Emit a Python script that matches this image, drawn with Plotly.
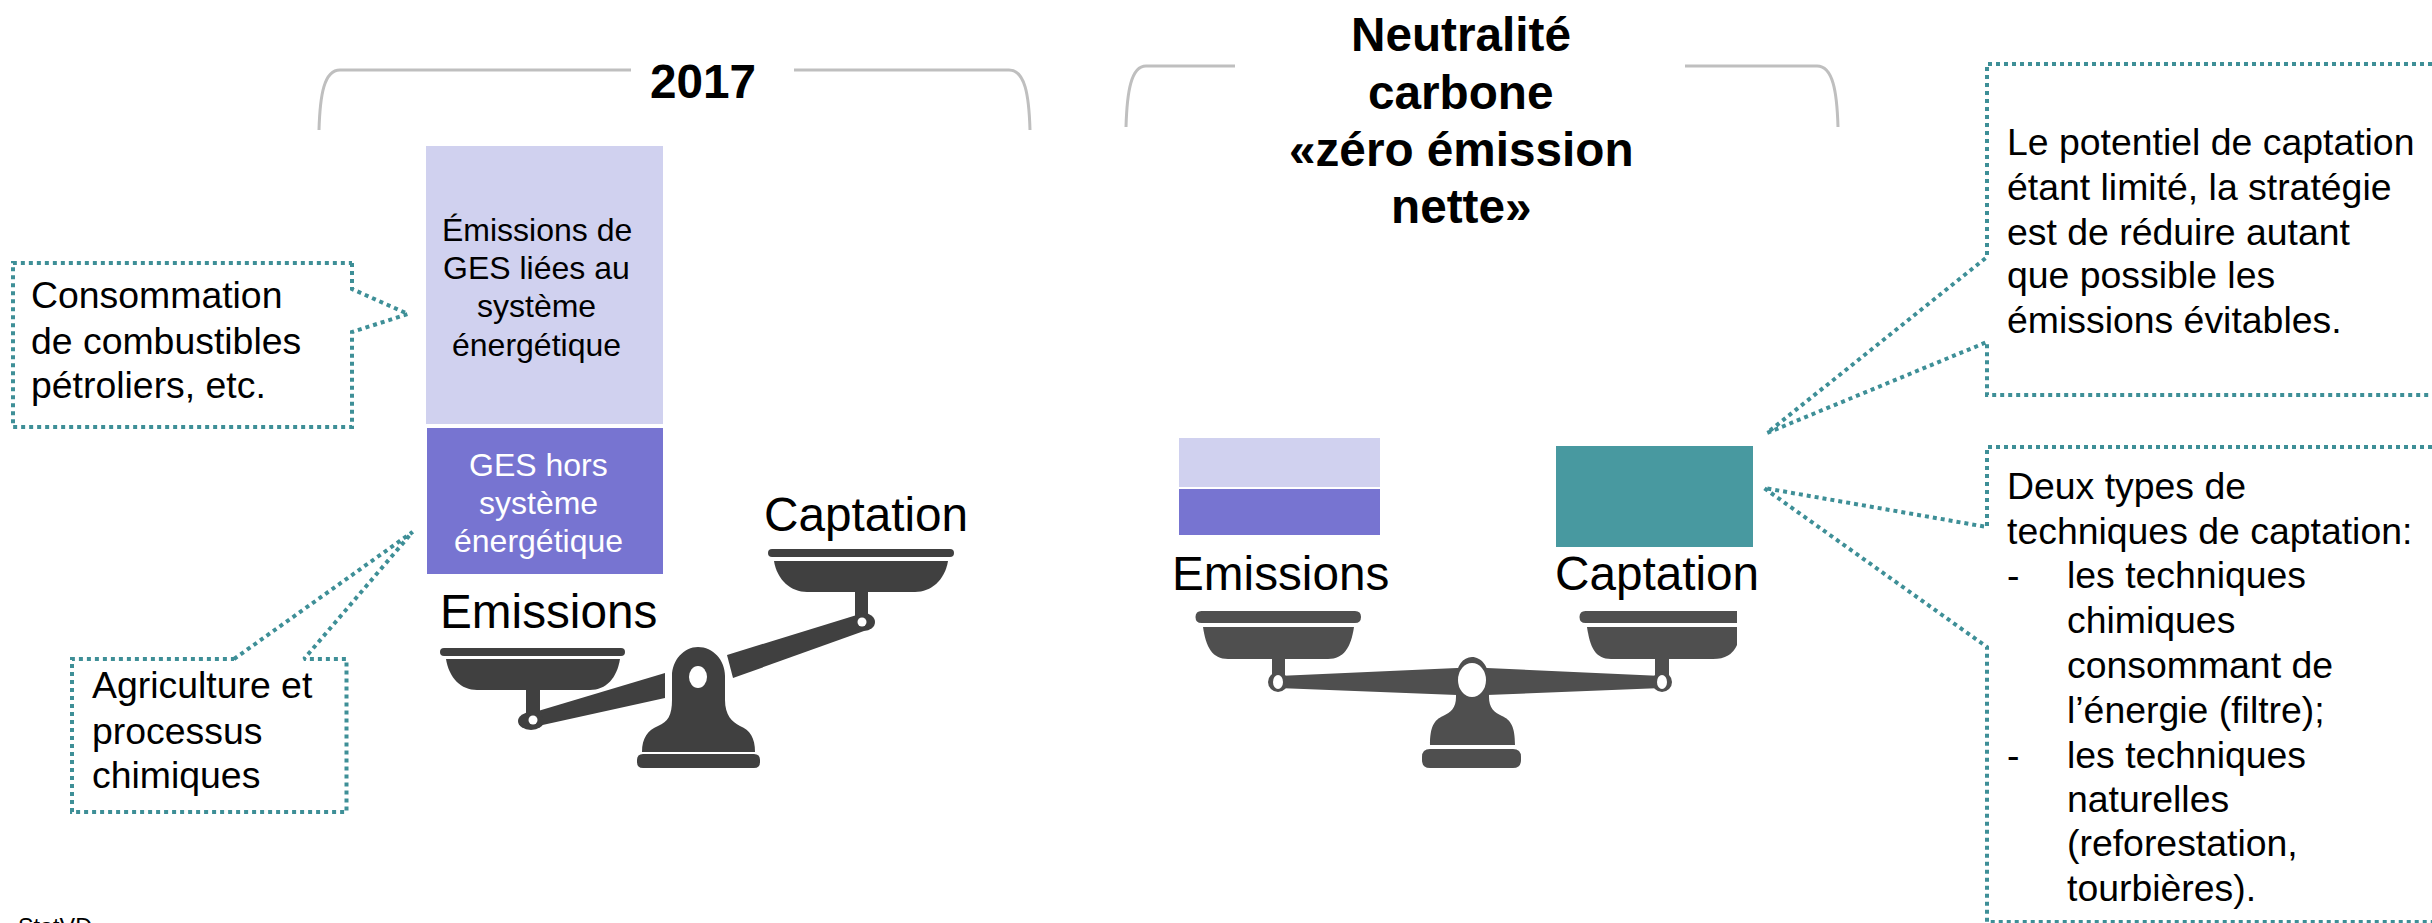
import plotly.graph_objects as go

# ---- data (heights, in picture units) ----
stack_labels = ["Émissions énergie 2017", "GES hors énergie 2017", "Émissions énergie neutralité", "GES hors énergie neutralité", "Captation neutralité"]
stack_values = [278, 146, 49, 46, 101]
titles = ["2017", "Neutralité", "carbone", "«zéro émission", "nette»"]
energy_lines = ["Émissions de", "GES liées au", "système", "énergétique"]
other_lines = ["GES hors", "système", "énergétique"]
note_fuel = ["Consommation", "de combustibles", "pétroliers, etc."]
note_agri = ["Agriculture et", "processus", "chimiques"]
note_limit = ["Le potentiel de captation", "étant limité, la stratégie", "est de réduire autant", "que possible les", "émissions évitables."]
note_types = ["Deux types de", "techniques de captation:"]
note_types_items = ["les techniques", "chimiques", "consommant de", "l’énergie (filtre);", "les techniques", "naturelles", "(reforestation,", "tourbières)."]

W, H = 2432, 923
FONT = "Liberation Sans"
LIGHT, MID, TEAL = "#D0D1EF", "#7774D1", "#4899A0"
DOT = "#3E8F97"
GREY = "#BFBFBF"

fig = go.Figure()

# bars: (centre x, top y, width)
bar_geo = [(544.5, 146, 237), (545, 428, 236), (1279.5, 438, 201), (1279.5, 489, 201), (1654.5, 446, 197)]
bar_col = [LIGHT, MID, LIGHT, MID, TEAL]
for name, v, (cx, top, w), c in zip(stack_labels, stack_values, bar_geo, bar_col):
    fig.add_trace(go.Bar(x=[cx], y=[v], base=[top], width=[w], name=name,
                         marker=dict(color=c, line=dict(width=0)), hoverinfo="skip"))

# dotted callouts
def callout(xs, ys):
    fig.add_trace(go.Scatter(x=xs, y=ys, mode="lines", hoverinfo="skip",
                             line=dict(color=DOT, width=4, dash="4px,4px")))

callout([352, 352, 408, 352, 352, 13, 13, 352], [263, 289, 314, 332, 427, 427, 263, 263])
callout([234, 412.5, 304, 346.5, 346.5, 72, 72, 234], [659, 532, 659, 659, 812, 812, 659, 659])
callout([2440, 1987, 1987, 1767, 1987, 1987, 2440], [64, 64, 257, 433, 342, 395, 395])
callout([2440, 1987, 1987, 1764, 1987, 1987, 2440], [447, 447, 527, 488, 647, 922, 922])

shapes = []
def path(d, color):
    shapes.append(dict(type="path", path=d, fillcolor=color, line=dict(width=0), layer="above",
                       xref="x", yref="y"))
def ell(cx, cy, rx, ry, color):
    shapes.append(dict(type="circle", x0=cx-rx, x1=cx+rx, y0=cy-ry, y1=cy+ry, fillcolor=color,
                       line=dict(width=0), layer="above", xref="x", yref="y"))
def rrect(x0, y0, x1, y1, r, color, right_square=False):
    if right_square:
        d = f"M{x0+r},{y0} L{x1},{y0} L{x1},{y1} L{x0+r},{y1} Q{x0},{y1} {x0},{y1-r} L{x0},{y0+r} Q{x0},{y0} {x0+r},{y0} Z"
    else:
        d = (f"M{x0+r},{y0} L{x1-r},{y0} Q{x1},{y0} {x1},{y0+r} L{x1},{y1-r} Q{x1},{y1} {x1-r},{y1} "
             f"L{x0+r},{y1} Q{x0},{y1} {x0},{y1-r} L{x0},{y0+r} Q{x0},{y0} {x0+r},{y0} Z")
    path(d, color)
def pan(x0, x1, rim_y0, rim_y1, bx0, bx1, by0, by1, fx0, fx1, color, clip=False):
    rrect(x0, rim_y0, x1, rim_y1, (rim_y1-rim_y0)/2, color, right_square=clip)
    if clip:
        path(f"M{bx0},{by0} L{bx1},{by0} L{bx1},{by1-14} Q{fx1+18},{by1} {fx1},{by1} L{fx0},{by1} "
             f"C{fx0-16},{by1} {bx0+3},{by1-12} {bx0},{by0} Z", color)
    else:
        path(f"M{bx0},{by0} L{bx1},{by0} C{bx1-3},{by1-12} {fx1+16},{by1} {fx1},{by1} L{fx0},{by1} "
             f"C{fx0-16},{by1} {bx0+3},{by1-12} {bx0},{by0} Z", color)

# left balance
C1 = "#404040"
pan(440, 625, 648, 656, 446, 620, 659, 690, 477, 590, C1)
pan(768, 954, 549, 557, 774, 948, 561, 592, 807, 915, C1)
path("M526,690 L540,690 L540,722 L526,722 Z", C1)
path("M855,590 L868,590 L868,624 L855,624 Z", C1)
path("M538,711 L665,673 L665,698 L538,726 Z", C1)
path("M727,655 L860,614 L864,631 L733,678 Z", C1)
ell(531, 721, 13, 9, C1)
ell(864, 622, 11, 9, C1)
ell(533, 720, 4.5, 4.5, "white")
ell(862, 622, 4.5, 4.5, "white")
path("M672,676 C672,660 684,647 698,647 C713,647 725,660 725,676 L725,700 C725,715 732,722 740,726 "
     "C750,730 755,738 755,752 L642,752 C642,738 648,730 658,726 C668,722 672,715 672,700 Z", C1)
ell(698, 677, 9, 11, "white")
rrect(637, 754, 760, 768, 6, C1)

# right balance
C2 = "#4F4F4F"
pan(1195.5, 1361, 611, 623, 1203, 1354, 627, 659, 1228, 1328, C2)
pan(1579.5, 1737, 611, 623, 1587, 1737, 627, 659, 1611, 1713, C2, clip=True)
path("M1272,659 L1285,659 L1285,682 L1272,682 Z", C2)
path("M1655,659 L1669,659 L1669,682 L1655,682 Z", C2)
path("M1278,676 L1457,668 L1487,668 L1662,676 L1662,688 L1487,695 L1457,695 L1278,688 Z", C2)
ell(1278, 682, 10, 10, C2)
ell(1662, 682, 10, 10, C2)
ell(1278, 682, 5, 7, "white")
ell(1662, 682, 5, 7, "white")
path("M1456,680 C1456,666 1463,657 1472,657 C1481,657 1489,666 1489,680 L1489,697 "
     "C1489,708 1494,712 1502,716 C1511,720 1515,727 1515,745 L1430,745 C1430,727 1434,720 1443,716 "
     "C1451,712 1456,708 1456,697 Z", C2)
ell(1472, 680, 14, 17, "white")
rrect(1422, 749, 1521, 768, 8, C2)

# brackets
shapes.append(dict(type="path", xref="x", yref="y", line=dict(color=GREY, width=3),
    path="M319,130 C320,95 324,70 340,70 L631,70 M794,70 L1009,70 C1025,70 1029,95 1030,130"))
shapes.append(dict(type="path", xref="x", yref="y", line=dict(color=GREY, width=3),
    path="M1126,127 C1127,92 1131,66 1146,66 L1235,66 M1685,66 L1817,66 C1833,66 1837,92 1838,127"))

# text: y given as baseline
notes = []
B, S, T = 47.7, 32, 37.4
lift = {B: 1.5, S: 1, T: 0}
shift = {B: 0, S: -0.5, T: -1.5}
def text(x, baseline, s, size, anchor="left", color="black", bold=False):
    shown = f"<b>{s}</b>" if bold else s
    notes.append(dict(x=x + shift[size], y=baseline - 0.31*size - lift[size], text=shown, showarrow=False,
                      xref="x", yref="y", xanchor=anchor, yanchor="middle", borderpad=0,
                      font=dict(family=FONT, size=size, color=color)))

text(703, 98, titles[0], B, "center", bold=True)
for s, b in zip(titles[1:], [51, 109, 166, 223]):
    text(1461, b, s, B, "center", bold=True)
for s, b in zip(energy_lines, [241, 279, 317, 356]):
    text(537, b, s, S, "center")
for s, b in zip(other_lines, [476, 514, 552]):
    text(539, b, s, S, "center", color="white")
text(548, 628, "Emissions", B, "center")
text(866, 531, "Captation", B, "center")
text(1280, 590, "Emissions", B, "center")
text(1656.5, 590, "Captation", B, "center")
for s, b in zip(note_fuel, [307, 353, 397]):
    text(31.5, b, s, T)
for s, b in zip(note_agri, [697, 743, 787]):
    text(92.6, b, s, T)
for s, b in zip(note_limit, [154, 199, 244, 287, 332]):
    text(2007, b, s, T)
for s, b in zip(note_types, [498, 543]):
    text(2007, b, s, T)
for s, b in zip(note_types_items, [587, 632, 677, 722, 767, 811, 855, 900]):
    text(2067, b, s, T)
text(2007, 587, "-", T)
text(2007, 767, "-", T)
# source line sits partly below the picture edge in the reference, so it is placed in paper units
notes.append(dict(x=17/W, y=-4/H, text="StatVD", showarrow=False, xref="paper", yref="paper",
                  xanchor="left", yanchor="middle", borderpad=0,
                  font=dict(family=FONT, size=23.4, color="black")))

fig.update_layout(
    width=W, height=H, margin=dict(l=0, r=0, t=0, b=0), showlegend=False,
    paper_bgcolor="white", plot_bgcolor="white", barmode="overlay", bargap=0,
    shapes=shapes, annotations=notes,
    xaxis=dict(range=[0, W], visible=False, fixedrange=True),
    yaxis=dict(range=[H, 0], visible=False, fixedrange=True),
)
fig.write_html("out.html", config=dict(displayModeBar=False),
               post_script="document.body.style.margin='0';document.body.style.overflow='hidden';")
